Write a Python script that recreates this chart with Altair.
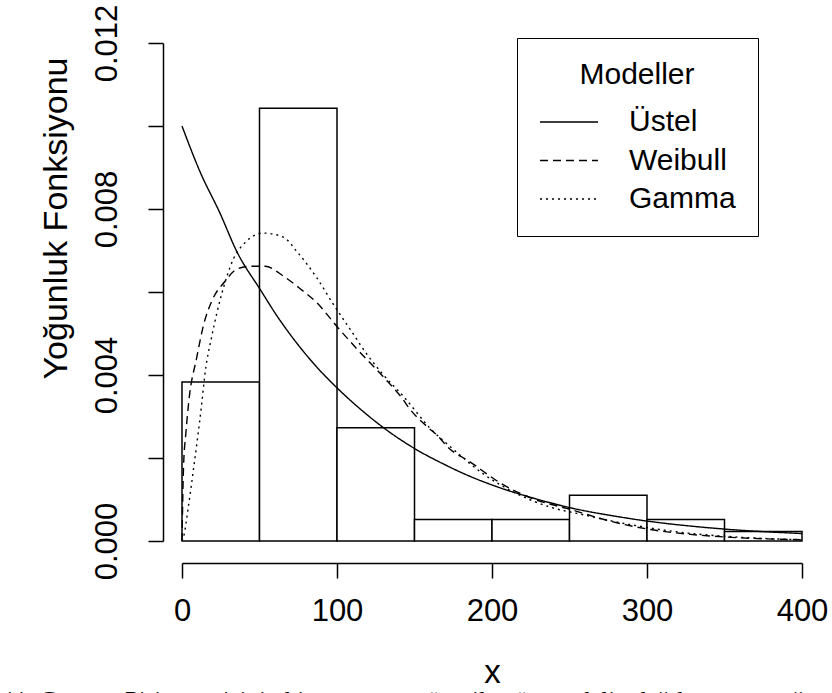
import altair as alt
import pandas as pd

# Histogram (bin edges and densities)
bin_start = [0, 50, 100, 150, 200, 250, 300, 350]
bin_end = [50, 100, 150, 200, 250, 300, 350, 400]
density = [0.00383, 0.01043, 0.00273, 0.00052, 0.00052, 0.0011, 0.00052, 0.00023]

# Fitted density curves
exp_x = [0, 11.6, 24.5, 35.3, 50.8, 61, 74, 87, 100, 115, 130, 149.5, 169, 179.6, 203, 227, 250.6, 280.7, 300, 328, 349, 400]
exp_y = [0.0100, 0.0089, 0.0079, 0.00698, 0.00604, 0.00544, 0.00477, 0.00419, 0.00369, 0.00318, 0.00273, 0.00224,
         0.00185, 0.00166, 0.00131, 0.00103, 0.0008, 0.00059, 0.00048, 0.00036, 0.00029, 0.00018]

wei_x = [0, 1, 2.5, 4.5, 9.5, 13.8, 19.2, 27.8, 35.3, 43.9, 53.6, 65.5, 76.2, 87, 100.6, 112.8, 130, 142, 147, 158,
         164.5, 173, 184, 207.5, 227, 250.6, 274, 300, 328, 349, 400]
wei_y = [0, 0.0018, 0.0026, 0.0034, 0.00442, 0.00519, 0.00578, 0.00626, 0.00655, 0.00662, 0.00662, 0.00638, 0.00608,
         0.00574, 0.00514, 0.00463, 0.00395, 0.00344, 0.00318, 0.00276, 0.00255, 0.00221, 0.00195, 0.00135, 0.00101,
         0.00076, 0.0005, 0.00029, 0.00016, 0.0001, 0.00003]

gam_x = [0, 1, 4, 7.3, 12.7, 14.9, 19.2, 25.6, 33.2, 40.7, 52.5, 65.5, 74, 87, 97.7, 108.5, 119.3, 130, 143, 160, 175,
         194.6, 216, 235.6, 259, 291.5, 324, 356, 400]
gam_y = [0, 0.0001, 0.0008, 0.0017, 0.0033, 0.00405, 0.00493, 0.00595, 0.0068, 0.00719, 0.00742, 0.00732, 0.00698,
         0.00634, 0.0057, 0.0051, 0.0045, 0.004, 0.00348, 0.00272, 0.00221, 0.00161, 0.00114, 0.00084, 0.00063,
         0.00038, 0.0002, 0.0001, 0.00003]

models = ["Üstel", "Weibull", "Gamma"]
dash_patterns = [[1, 0], [8, 5], [2, 4]]

x_ticks = [0, 100, 200, 300, 400]
y_ticks = [0, 0.002, 0.004, 0.006, 0.008, 0.010, 0.012]

x_title = "x"
y_title = "Yoğunluk Fonksiyonu"
legend_title = "Modeller"
caption = "11. Gamma Pirinç verisinin histogramı ve önerilen üç modelin dağılım uyumu ğ"

FONT = "Liberation Sans"

hist_df = pd.DataFrame({"start": bin_start, "end": bin_end, "density": density})
rows = []
for name, xs, ys in [(models[0], exp_x, exp_y), (models[1], wei_x, wei_y), (models[2], gam_x, gam_y)]:
    for a, b in zip(xs, ys):
        rows.append({"model": name, "x": a, "y": b})
curve_df = pd.DataFrame(rows)

xscale = alt.Scale(domain=[0, 400], nice=False, zero=False)
yscale = alt.Scale(domain=[0, 0.012], nice=False)

xaxis = alt.Axis(values=x_ticks, offset=22, tickSize=15, labelPadding=18, labelFontSize=31, labelFont=FONT,
                 labelColor="black", domainColor="black", tickColor="black", domainWidth=1.5, tickWidth=1.5,
                 grid=False, labelFlush=False, labelOverlap=False, title=x_title, titleFont=FONT,
                 titleFontSize=33, titleFontWeight="normal", titleColor="black", titleX=310, titleY=119,
                 titleBaseline="alphabetic", titleAlign="center")

yaxis = alt.Axis(values=y_ticks,
                 labelExpr="round(datum.value*1000) % 4 == 0 ? format(datum.value, '.3f') : ''",
                 offset=19, tickSize=15, labelAngle=270, labelAlign="center", labelBaseline="alphabetic",
                 labelPadding=32, labelFontSize=31, labelFont=FONT, labelColor="black", domainColor="black",
                 tickColor="black", domainWidth=1.5, tickWidth=1.5, grid=False, labelFlush=False,
                 labelOverlap=False, title=y_title, titleFont=FONT, titleFontSize=34, titleFontWeight="normal",
                 titleColor="black", titleAngle=270, titleX=-97, titleY=175, titleAlign="center",
                 titleBaseline="alphabetic")

hist = alt.Chart(hist_df).mark_rect(fill="white", stroke="black", strokeWidth=1.5).encode(
    x=alt.X("start:Q", scale=xscale, axis=xaxis),
    x2="end:Q",
    y=alt.Y("density:Q", scale=yscale, axis=yaxis),
    y2=alt.datum(0),
)

lines = alt.Chart(curve_df).mark_line(color="black", strokeWidth=1.4, interpolate="monotone").encode(
    x=alt.X("x:Q", scale=xscale),
    y=alt.Y("y:Q", scale=yscale),
    strokeDash=alt.StrokeDash(
        "model:N",
        scale=alt.Scale(domain=models, range=dash_patterns),
        legend=alt.Legend(title=legend_title, orient="none", legendX=335, legendY=-5, direction="vertical",
                          strokeColor="black", fillColor="white", padding=22, cornerRadius=0,
                          titleFont=FONT, titleFontSize=30, titleFontWeight="normal", titleColor="black",
                          titleAnchor="middle", titleAlign="center", titlePadding=22,
                          labelFont=FONT, labelFontSize=30, labelColor="black", labelOffset=30,
                          symbolType="stroke", symbolSize=3364, symbolStrokeWidth=1.4,
                          symbolStrokeColor="black", clipHeight=20, rowPadding=8.5),
    ),
)

chart = alt.layer(hist, lines).properties(
    width=620, height=498,
    padding={"left": 182, "top": 43, "right": 30, "bottom": 152},
    autosize=alt.AutoSizeParams(type="none"),
    background="white",
    title=alt.TitleParams(text=caption, orient="bottom", anchor="start", font="Liberation Serif",
                          fontSize=25, fontWeight="normal", color="black", dx=-36, offset=8, dy=-8),
).configure_view(stroke=None)

chart.save("out.html", embed_options={"renderer": "svg", "actions": False})
